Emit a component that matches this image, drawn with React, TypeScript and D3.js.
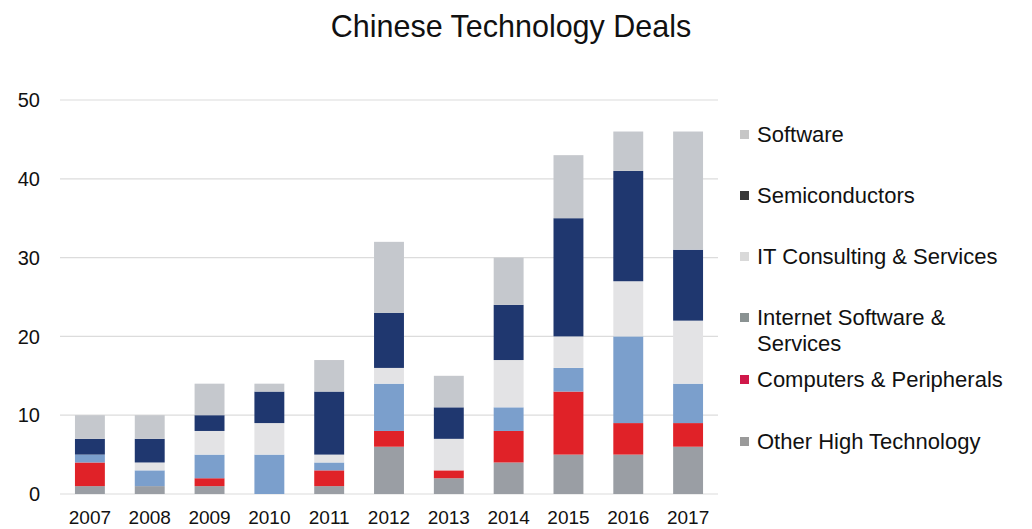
import React from "react";
import * as d3 from "d3";

const years = ["2007", "2008", "2009", "2010", "2011", "2012", "2013", "2014", "2015", "2016", "2017"];
const otherHighTech = [1, 1, 1, 0, 1, 6, 2, 4, 5, 5, 6];
const computers = [3, 0, 1, 0, 2, 2, 1, 4, 8, 4, 3];
const internetSoftware = [1, 2, 3, 5, 1, 6, 0, 3, 3, 11, 5];
const itConsulting = [0, 1, 3, 4, 1, 2, 4, 6, 4, 7, 8];
const semiconductors = [2, 3, 2, 4, 8, 7, 4, 7, 15, 14, 9];
const software = [3, 3, 4, 1, 4, 9, 4, 6, 8, 5, 15];
const yTicks = [0, 10, 20, 30, 40, 50];

const seriesKeys = ["other", "computers", "internet", "it", "semis", "software"];
const seriesValues: Record<string, number[]> = {
  other: otherHighTech,
  computers: computers,
  internet: internetSoftware,
  it: itConsulting,
  semis: semiconductors,
  software: software,
};
const barColors: Record<string, string> = {
  other: "#9a9ea4",
  computers: "#e02228",
  internet: "#7b9fcc",
  it: "#e3e3e5",
  semis: "#1f376f",
  software: "#c5c8cd",
};
const legendItems = [
  { key: "software", lines: ["Software"], color: "#c6c6c6" },
  { key: "semis", lines: ["Semiconductors"], color: "#383838" },
  { key: "it", lines: ["IT Consulting & Services"], color: "#d9d9d9" },
  { key: "internet", lines: ["Internet Software &", "Services"], color: "#8a9292" },
  { key: "computers", lines: ["Computers & Peripherals"], color: "#d0184a" },
  { key: "other", lines: ["Other High Technology"], color: "#9a9a9a" },
];
const legendBaselines = [142, 203, 264, 325, 387, 449];

export default function App() {
  const W = 1032;
  const H = 529;
  const font = "'Liberation Sans', Arial, Helvetica, sans-serif";

  const x = d3.scaleBand<string>().domain(years).range([60, 718]).paddingInner(0.5).paddingOuter(0.25);
  const y = d3.scaleLinear().domain([0, 50]).range([494, 100]);

  const table = years.map((yr, i) => {
    const row: any = { year: yr };
    seriesKeys.forEach((k) => (row[k] = seriesValues[k][i]));
    return row;
  });
  const stacked = d3.stack<any>().keys(seriesKeys)(table);

  return (
    <svg width={W} height={H} style={{ position: "absolute", left: 0, top: 0, background: "#fff" }} fontFamily={font}>
      <rect width={W} height={H} fill="#fff" />
      <text x={511} y={37} textAnchor="middle" fontSize={30.5} fill="#111">
        Chinese Technology Deals
      </text>
      {yTicks.map((t) => (
        <g key={t}>
          <line x1={60} x2={718} y1={y(t)} y2={y(t)} stroke="#dcdcdc" strokeWidth={1.2} />
          <text x={40} y={y(t)} dy="0.36em" textAnchor="end" fontSize={20} fill="#111">
            {t}
          </text>
        </g>
      ))}
      {stacked.map((s) => (
        <g key={s.key} fill={barColors[s.key]}>
          {s.map((d, i) => (
            <rect
              key={i}
              x={x(years[i])}
              width={x.bandwidth()}
              y={y(d[1])}
              height={Math.max(0, y(d[0]) - y(d[1]))}
            />
          ))}
        </g>
      ))}
      {years.map((yr) => (
        <text key={yr} x={(x(yr) as number) + x.bandwidth() / 2} y={524} textAnchor="middle" fontSize={19} fill="#111">
          {yr}
        </text>
      ))}
      {legendItems.map((item, i) => {
        const b = legendBaselines[i];
        return (
          <g key={item.key}>
            <rect x={740} y={b - 12} width={9} height={9} fill={item.color} />
            {item.lines.map((ln, j) => (
              <text key={j} x={757} y={b + j * 26} fontSize={22} fill="#111">
                {ln}
              </text>
            ))}
          </g>
        );
      })}
    </svg>
  );
}
